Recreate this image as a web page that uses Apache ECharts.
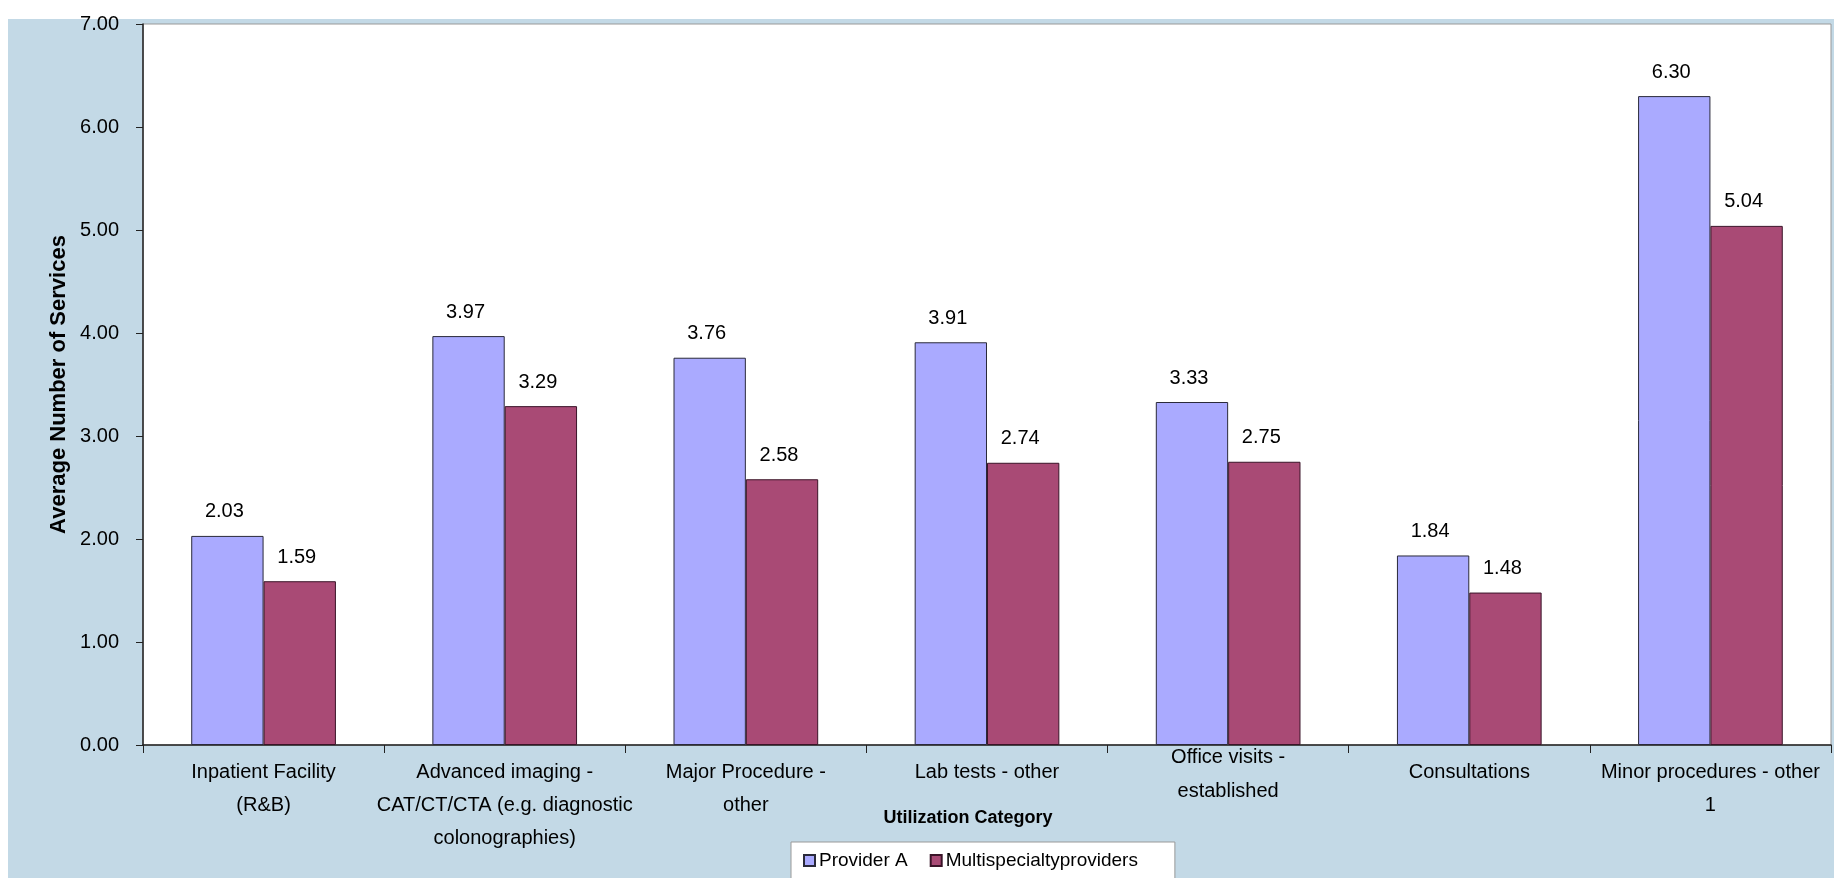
<!DOCTYPE html>
<html>
<head>
<meta charset="utf-8">
<title>Average Number of Services by Utilization Category</title>
<script src="https://cdn.jsdelivr.net/npm/echarts@6/dist/echarts.min.js"></script>
<style>
  html, body {
    margin: 0;
    padding: 0;
    background: #fff;
  }
  .backdrop {
    position: absolute;
    left: 8px;
    top: 19px;
    right: 0;
    bottom: 0;
    background-color: #c3d9e6;
  }
  #chart {
    position: absolute;
    left: 0;
    top: 0;
    width: 1834px;
    height: 878px;
  }
</style>
</head>
<body>
<div class="backdrop"></div>
<div id="chart"></div>
<script>
// categories along the x axis (line breaks as in the original)
const categories = [
  'Inpatient Facility\n(R&B)',
  'Advanced imaging -\nCAT/CT/CTA (e.g. diagnostic\ncolonographies)',
  'Major Procedure -\nother',
  'Lab tests - other',
  'Office visits -\nestablished',
  'Consultations',
  'Minor procedures - other\n1'
]

const providerA = [2.03, 3.97, 3.76, 3.91, 3.33, 1.84, 6.30]
const multispecialty = [1.59, 3.29, 2.58, 2.74, 2.75, 1.48, 5.04]

const yTicks = [0, 1, 2, 3, 4, 5, 6, 7]

const font = '"Liberation Sans", Arial, sans-serif'

const chart = echarts.init(document.getElementById('chart'))

// office visits label is drawn higher than the others in the original
function catLabel(value) {
  if (value.startsWith('Office visits')) {
    const lines = value.split('\n')
    return '{up|' + lines[0] + '}\n{down|' + lines[1] + '}'
  }
  return value
}

const labelOpt = {
  show: true,
  position: 'top',
  distance: 14,
  offset: [-3, 0],
  color: '#000',
  fontFamily: font,
  fontSize: 20,
  formatter: p => p.value.toFixed(2)
}

const option = {
  animation: false,
  textStyle: { fontFamily: font },
  grid: {
    left: 143,
    right: 3,
    top: 24,
    bottom: 133,
    outerBoundsMode: 'none',
    show: true,
    backgroundColor: '#fff',
    borderColor: '#999',
    borderWidth: 1
  },
  legend: {
    left: 791,
    top: 842,
    padding: [9, 37, 24, 12],
    backgroundColor: '#fff',
    borderColor: '#999',
    borderWidth: 1,
    borderRadius: 0,
    icon: 'rect',
    itemWidth: 11,
    itemHeight: 11,
    itemGap: 22,
    textStyle: { color: '#000', fontFamily: font, fontSize: 19, padding: [0, 0, 0, -1] },
    data: ['Provider A', 'Multispecialtyproviders']
  },
  xAxis: {
    type: 'category',
    data: categories,
    name: 'Utilization Category',
    nameLocation: 'middle',
    nameGap: 64,
    nameMoveOverlap: false,
    nameTextStyle: {
      color: '#000',
      fontFamily: font,
      fontSize: 18,
      fontWeight: 'bold',
      padding: [0, 38, 0, 0]
    },
    axisLine: { show: true, lineStyle: { color: '#222', width: 1.5 } },
    axisTick: { show: true, length: 8, lineStyle: { color: '#222' } },
    axisLabel: {
      interval: 0,
      margin: 11,
      color: '#000',
      fontFamily: font,
      fontSize: 20,
      lineHeight: 33,
      formatter: catLabel,
      rich: {
        up: { fontFamily: font, fontSize: 20, color: '#000', lineHeight: 2 },
        down: { fontFamily: font, fontSize: 20, color: '#000', lineHeight: 66 }
      }
    },
    splitLine: { show: false }
  },
  yAxis: {
    type: 'value',
    min: yTicks[0],
    max: yTicks[yTicks.length - 1],
    interval: 1,
    name: 'Average Number of Services',
    nameLocation: 'middle',
    nameGap: 73,
    nameMoveOverlap: false,
    nameTextStyle: {
      color: '#000',
      fontFamily: font,
      fontSize: 22,
      fontWeight: 'bold'
    },
    axisLine: { show: true, lineStyle: { color: '#222', width: 1.5 } },
    axisTick: { show: true, length: 7, lineStyle: { color: '#222' } },
    axisLabel: {
      margin: 24,
      color: '#000',
      fontFamily: font,
      fontSize: 20,
      formatter: v => v.toFixed(2)
    },
    splitLine: { show: false }
  },
  series: [
    {
      name: 'Provider A',
      type: 'bar',
      data: providerA,
      barGap: '0%',
      barCategoryGap: '40%',
      itemStyle: { color: '#aaaaff', borderColor: '#2a2a3a', borderWidth: 1 },
      label: labelOpt
    },
    {
      name: 'Multispecialtyproviders',
      type: 'bar',
      data: multispecialty,
      barGap: '0%',
      barCategoryGap: '40%',
      itemStyle: { color: '#a94a75', borderColor: '#3a1428', borderWidth: 1 },
      label: labelOpt
    }
  ]
}

chart.setOption(option)
</script>
</body>
</html>
